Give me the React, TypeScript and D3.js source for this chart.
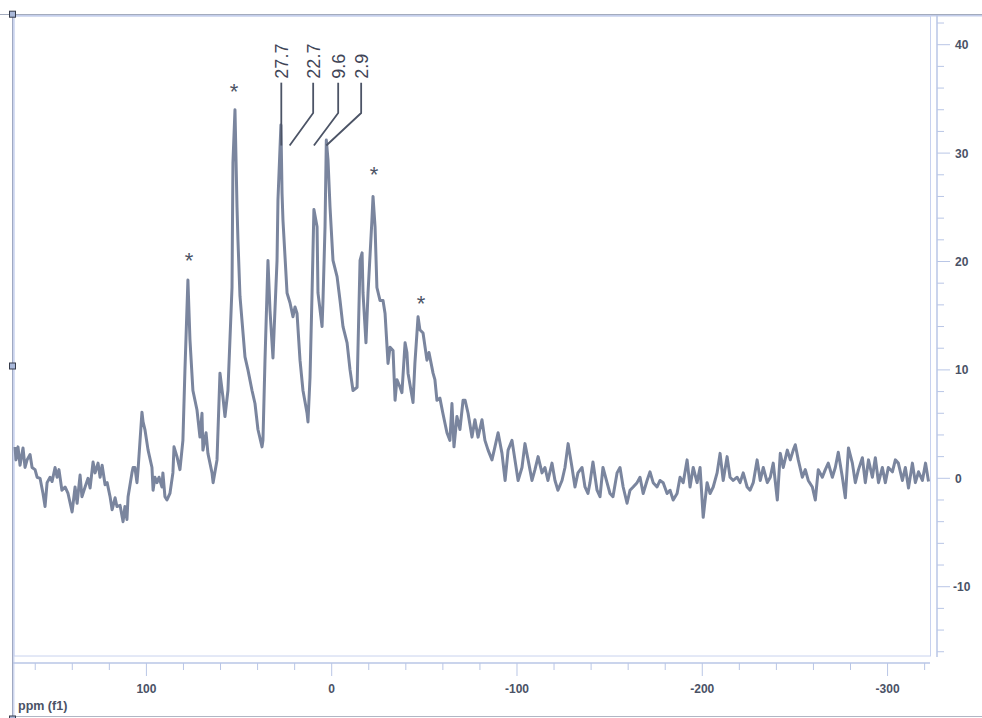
import React from 'react';
import * as d3 from 'd3';

// Spectrum trace (chemical shift in ppm, intensity)
const ppm = [
  170.9, 170.4, 169.3, 168.2, 166.6, 165.5, 164.4, 162.8, 161.7, 160.1, 159.0, 157.4, 155.8, 154.7, 153.6, 152.0, 150.9, 149.3, 148.2, 147.2,
  145.6, 143.9, 142.3, 140.1, 138.5, 137.4, 135.8, 134.8, 133.1, 131.5, 130.4, 128.8, 127.7, 126.1, 125.0, 123.9, 122.3, 121.2, 119.6, 118.5,
  116.9, 115.9, 114.2, 112.6, 111.6, 110.5, 109.9, 107.8, 107.2, 106.2, 105.1, 104.5, 102.4, 101.8, 100.8, 99.1, 97.0, 96.4, 95.4, 94.3,
  93.2, 91.6, 91.1, 90.0, 88.9, 87.3, 85.7, 85.1, 83.5, 81.9, 80.3, 79.2, 77.6, 76.5, 74.9, 72.7, 71.1, 70.0, 69.5, 67.8,
  66.8, 64.6, 64.0, 61.9, 60.3, 58.7, 57.6, 56.0, 53.8, 53.3, 52.2, 51.1, 50.6, 49.5, 46.8, 45.2, 43.0, 41.4, 39.8, 37.6,
  37.1, 36.0, 34.4, 33.3, 31.7, 29.5, 29.0, 27.4, 26.8, 26.3, 24.1, 22.5, 20.9, 19.8, 18.7, 17.1, 15.5, 13.3, 12.8, 11.7,
  10.6, 9.6, 7.9, 7.4, 5.2, 4.7, 3.6, 2.9, 2.0, 0.9, -0.7, -2.9, -4.5, -6.1, -8.3, -9.9, -11.5, -13.7, -15.3, -16.4,
  -16.9, -18.5, -19.6, -21.7, -22.3, -23.4, -24.4, -26.1, -27.7, -28.8, -30.4, -31.5, -33.1, -34.2, -35.2, -36.9, -37.9, -39.6, -40.6, -41.2,
  -43.9, -44.9, -46.6, -47.6, -49.3, -51.4, -52.5, -54.7, -55.7, -56.8, -58.4, -60.0, -62.2, -63.8, -64.9, -66.0, -67.6, -69.2, -70.9, -72.0,
  -73.6, -75.7, -77.3, -79.0, -81.1, -82.7, -84.4, -86.5, -88.1, -89.8, -91.9, -93.6, -95.2, -97.3, -98.9, -100.6, -102.7, -104.3, -106.0, -108.1,
  -109.7, -111.4, -113.5, -115.1, -116.7, -118.9, -120.5, -122.1, -124.3, -125.9, -127.6, -129.7, -131.3, -132.9, -135.1, -136.7, -138.3, -139.4, -141.0, -143.2,
  -144.8, -146.4, -148.6, -150.2, -151.8, -154.0, -155.6, -157.3, -159.4, -161.0, -162.7, -164.8, -166.4, -168.1, -170.2, -171.8, -173.5, -175.6, -177.2, -178.9,
  -181.0, -182.6, -184.3, -186.4, -188.0, -189.7, -191.8, -193.4, -195.1, -197.2, -198.8, -200.5, -202.6, -204.2, -205.9, -208.0, -209.6, -211.3, -213.4, -215.0,
  -216.7, -218.8, -220.4, -222.1, -224.2, -225.8, -227.5, -229.6, -231.3, -232.9, -235.1, -236.7, -238.3, -240.5, -242.1, -243.7, -245.9, -247.5, -249.1, -250.2,
  -251.8, -254.0, -255.6, -257.2, -259.4, -261.0, -262.6, -264.8, -266.4, -268.0, -270.2, -271.8, -273.4, -275.6, -277.2, -278.9, -281.0, -282.6, -284.3, -286.4,
  -288.0, -289.7, -291.8, -293.4, -295.1, -297.2, -298.8, -300.4, -302.6, -304.2, -305.8, -308.0, -309.6, -311.3, -313.4, -315.0, -316.7, -318.8, -320.5, -322.1,
];

const intensity = [
  2.9, 1.7, 2.9, 1.2, 2.8, 1.0, 1.7, 2.2, 1.0, 0.8, 0.1, 0.0, -1.4, -2.6, -0.4, 0.1, -0.3, 1.0, 0.1, 0.8,
  -1.1, -0.8, -1.4, -3.1, -0.8, -2.3, 0.3, -1.7, -0.8, 0.0, -0.9, 1.5, 0.5, 1.4, 0.1, 1.2, -0.6, -0.4, -1.7, -2.9,
  -1.8, -2.6, -2.5, -4.0, -2.6, -3.8, -1.7, 0.5, 1.0, 1.0, -0.4, 0.8, 6.1, 5.2, 4.5, 2.6, 1.0, -1.1, 0.1, -0.4,
  0.1, -0.8, 0.5, -1.7, -2.0, -1.4, 0.5, 2.9, 2.0, 0.8, 3.5, 10.0, 18.3, 12.8, 8.1, 6.3, 3.8, 6.0, 2.6, 4.2,
  2.3, 0.5, -0.4, 1.7, 9.7, 7.5, 5.7, 8.1, 17.6, 29.1, 34.0, 25.0, 22.0, 16.8, 11.2, 10.0, 8.1, 6.9, 4.5, 2.9,
  3.5, 10.9, 20.1, 15.5, 11.1, 20.1, 25.7, 32.6, 26.3, 23.8, 17.1, 16.2, 14.9, 15.8, 15.2, 10.9, 8.1, 6.0, 5.2, 9.3,
  17.1, 24.8, 23.2, 17.1, 14.0, 16.4, 23.2, 31.2, 29.4, 25.0, 20.1, 18.6, 16.4, 14.0, 12.5, 10.0, 8.1, 8.4, 20.1, 20.8,
  17.1, 12.5, 17.1, 23.8, 26.0, 23.2, 17.6, 16.4, 16.4, 15.2, 10.6, 12.1, 11.8, 7.2, 9.1, 8.4, 7.9, 12.5, 11.6, 9.7,
  7.0, 10.6, 14.9, 13.7, 13.4, 10.9, 11.6, 9.7, 9.1, 7.2, 7.4, 6.0, 4.2, 3.5, 6.9, 2.9, 5.7, 4.5, 7.2, 7.2,
  6.0, 3.8, 5.4, 3.8, 5.4, 3.5, 2.6, 1.7, 2.9, 4.2, 2.3, -0.2, 2.6, 3.5, 1.7, -0.2, 1.0, 3.2, 1.7, -0.2,
  0.8, 2.0, 0.5, 1.0, -0.2, 1.4, -0.2, -1.1, -0.2, 1.0, 3.2, 1.0, -0.8, 0.5, 1.0, -0.8, -1.4, -0.4, 1.5, -1.1,
  -1.7, 1.0, -0.4, -1.4, -1.7, 0.5, 1.0, -0.8, -2.3, -1.1, -0.8, -0.4, 0.1, -1.4, -0.2, 0.6, -0.4, -0.8, -0.2, -0.4,
  -1.4, -1.1, -2.0, -1.4, 0.1, -0.4, 1.7, -0.8, 1.0, -0.4, 1.0, -3.6, -0.4, -1.4, -0.8, 0.5, 2.3, -0.2, 2.0, 0.1,
  -0.2, 0.1, -0.4, 0.5, -0.8, -1.1, -0.4, 1.7, -0.2, 1.0, -0.4, 0.1, 1.4, -2.0, 2.3, 1.0, 2.6, 1.7, 2.6, 3.1,
  1.7, 0.1, 0.8, -0.2, -0.8, -2.0, 0.8, 0.1, 0.8, 1.4, 0.1, 1.0, 2.4, 0.1, -1.8, 2.8, 1.4, -0.4, 0.8, 1.9,
  -0.4, 1.7, 0.1, 1.9, -0.4, 1.0, -0.4, 1.0, 0.6, 1.7, 1.4, -0.2, 1.0, -0.9, 1.4, -0.4, 0.6, -0.2, 1.4, -0.3,
];

// Peak annotations
const peakLabels = ['27.7', '22.7', '9.6', '2.9'];
const peakPpm = [27.7, 22.7, 9.6, 2.9];
const labelPpm = [27.2, 10.0, -3.5, -15.9];
const leaderTop = 36.5;
const leaderKnee = 33.7;
const leaderEnd = 30.7;

// Spinning-sideband markers
const asteriskPpm = [77.0, 52.7, -22.8, -48.2];
const asteriskHeight = [20.5, 36.1, 28.4, 16.5];

// Axis ticks
const xTicks = d3.range(160, -321, -20);
const xMajor = [100, 0, -100, -200, -300];
const yTicks = d3.range(-16, 43, 2);
const yMajor = [40, 30, 20, 10, 0, -10];
const xTitle = 'ppm (f1)';

const W = 982;
const H = 718;
const plotL = 13;
const plotR = 930;
const plotT = 15;
const plotB = 656;

export default function App() {
  const x = d3.scaleLinear().domain([172, -322.9]).range([plotL, plotR]);
  const y = d3.scaleLinear().domain([-16.3, 42.8]).range([655, 14.35]);

  const pts: [number, number][] = ppm.map((p, i) => [p, intensity[i]]);
  const line = d3
    .line<[number, number]>()
    .x((d) => x(d[0]))
    .y((d) => y(d[1]));

  const axisColor = '#b9c6e6';
  const textColor = '#4a5266';
  const axisY = 663;
  const axisX = 937;
  const font = 'Liberation Sans, Arial, sans-serif';

  return (
    <svg
      width={W}
      height={H}
      style={{ position: 'absolute', left: 0, top: 0, background: '#fff' }}
      fontFamily={font}
    >
      {/* outer frame lines */}
      <line x1={0} x2={W} y1={14.5} y2={14.5} stroke="#a3abbd" strokeWidth={1} />
      <line x1={13} x2={W} y1={15.8} y2={15.8} stroke="#c3cdea" strokeWidth={1.5} />
      <line x1={12.5} x2={12.5} y1={14} y2={H} stroke="#a0a9c2" strokeWidth={1} />
      <line x1={13.8} x2={13.8} y1={15} y2={H} stroke="#c3cdea" strokeWidth={1.2} />
      <line x1={13} x2={W} y1={716.5} y2={716.5} stroke="#b0b6c4" strokeWidth={1} />

      {/* plot frame */}
      <rect
        x={plotL + 1}
        y={plotT + 1}
        width={plotR - plotL - 0.5}
        height={plotB - plotT - 1}
        fill="none"
        stroke="#c8d2ee"
        strokeWidth={1}
      />

      {/* spectrum */}
      <path
        d={line(pts) || ''}
        fill="none"
        stroke="#7a859e"
        strokeWidth={3}
        strokeLinejoin="round"
      />

      {/* leaders */}
      {peakLabels.map((lab, i) => {
        const lx = x(labelPpm[i]);
        const px = x(peakPpm[i]);
        const straight = Math.abs(lx - px) < 3;
        const pts2 = straight
          ? `${lx},${y(leaderTop)} ${lx},${y(leaderEnd)}`
          : `${lx},${y(leaderTop)} ${lx},${y(leaderKnee)} ${px},${y(leaderEnd)}`;
        return (
          <g key={lab}>
            <polyline points={pts2} fill="none" stroke="#4c5466" strokeWidth={1.8} />
            <text
              transform={`translate(${lx + 6.5},${y(leaderTop) - 4}) rotate(-90)`}
              fontSize={18}
              fill="#3f4556"
            >
              {lab}
            </text>
          </g>
        );
      })}

      {/* asterisks */}
      {asteriskPpm.map((p, i) => (
        <text
          key={i}
          x={x(p)}
          y={y(asteriskHeight[i]) + 12}
          textAnchor="middle"
          fontSize={22}
          fill="#4c5466"
        >
          *
        </text>
      ))}

      {/* bottom axis */}
      <line x1={plotL} x2={plotR} y1={axisY} y2={axisY} stroke={axisColor} strokeWidth={1.5} />
      {xTicks.map((t) => {
        const major = xMajor.includes(t);
        return (
          <line
            key={t}
            x1={x(t)}
            x2={x(t)}
            y1={axisY}
            y2={axisY + (major ? 13 : 7)}
            stroke={axisColor}
            strokeWidth={1}
          />
        );
      })}
      {xMajor.map((t) => (
        <text
          key={t}
          x={x(t)}
          y={693}
          textAnchor="middle"
          fontSize={12}
          fontWeight="bold"
          fill={textColor}
        >
          {String(t)}
        </text>
      ))}
      <text x={18} y={710} fontSize={12.5} fontWeight="bold" fill={textColor}>
        {xTitle}
      </text>

      {/* right axis */}
      <line x1={axisX} x2={axisX} y1={plotT} y2={657} stroke={axisColor} strokeWidth={1.5} />
      {yTicks.map((t) => {
        const major = yMajor.includes(t);
        return (
          <line
            key={t}
            x1={axisX}
            x2={axisX + (major ? 13 : 7)}
            y1={y(t)}
            y2={y(t)}
            stroke={axisColor}
            strokeWidth={1}
          />
        );
      })}
      {yMajor.map((t) => (
        <text
          key={t}
          x={t < 0 ? 953 : 955}
          y={y(t) + 4.5}
          fontSize={12}
          fontWeight="bold"
          fill={textColor}
        >
          {String(t)}
        </text>
      ))}

      {/* handles */}
      {[14.2, 366, 719].map((cy) => (
        <rect
          key={cy}
          x={9.5}
          y={cy - 3}
          width={6}
          height={6}
          fill="#a9b8da"
          stroke="#353b4a"
          strokeWidth={1}
        />
      ))}
    </svg>
  );
}
